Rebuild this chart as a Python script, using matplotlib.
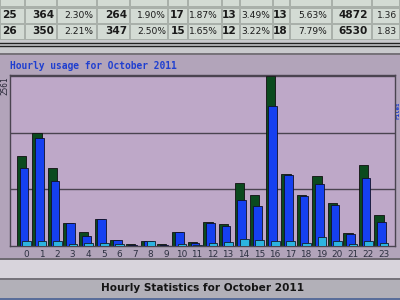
import matplotlib
matplotlib.use("Agg")
import matplotlib.pyplot as plt
from matplotlib.patches import Rectangle

# hourly usage, october 2011
hours = list(range(24))
hits = [1356, 1702, 1175, 346, 211, 407, 90, 30, 75, 30, 211, 60,
        362, 331, 949, 768, 2561, 1085, 768, 1055, 648, 196, 1220, 467]
files = [1175, 1627, 979, 346, 151, 407, 90, 15, 75, 15, 211, 45,
         346, 301, 693, 603, 2109, 1070, 753, 934, 618, 181, 1024, 362]
pages = [75, 75, 75, 30, 45, 45, 30, 5, 75, 5, 30, 15,
         45, 60, 105, 90, 75, 75, 45, 135, 75, 30, 75, 45]
y_max = 2561

# daily table rows visible above the chart
row_25 = ["25", "364", "2.30%", "264", "1.90%", "17", "1.87%", "13", "3.49%", "13", "5.63%", "4872", "1.36"]
row_26 = ["26", "350", "2.21%", "347", "2.50%", "15", "1.65%", "12", "3.22%", "18", "7.79%", "6530", "1.83"]

title = "Hourly usage for October 2011"
footer = "Hourly Statistics for October 2011"

fig = plt.figure(figsize=(4, 3), dpi=100)
fig.patch.set_facecolor("#b4aab8")

# background layer in pixel coords
bg = fig.add_axes([0, 0, 1, 1])
bg.set_xlim(0, 400)
bg.set_ylim(300, 0)
bg.axis("off")

def box(x, y, w, h, color, **kw):
    bg.add_patch(Rectangle((x, y), w, h, facecolor=color, edgecolor="none", **kw))

# table area
box(0, 0, 400, 40, "#a9b0aa")
col_edges = [0, 25, 57, 97, 130, 168, 188, 222, 240, 273, 290, 332, 372, 400]
for ry in [-9, 8, 24]:
    for i in range(len(col_edges) - 1):
        box(col_edges[i] + 1, ry + 1, col_edges[i + 1] - col_edges[i] - 2, 14, "#d3dbd4")

right_x = [17, 54, 93, 127, 166, 185, 218, 237, 270, 288, 327, 368]
for ry, row in [(15.5, row_25), (31.5, row_26)]:
    for i, val in enumerate(row):
        bold = "%" not in val
        if i == len(row) - 1:
            bg.text(377, ry, val, ha="left", va="center", fontsize=6.6, color="#222")
        else:
            bg.text(right_x[i], ry, val, ha="right", va="center",
                    fontsize=7.6 if bold else 6.6,
                    fontweight="bold" if bold else "normal", color="#1a1a1a")

box(0, 40, 400, 15, "#c9c9cd")
bg.plot([0, 400], [43, 43], color="#222", lw=1)
bg.plot([0, 400], [46, 46], color="#222", lw=1)
box(0, 53, 400, 2, "#77727a")

# chart panel
box(0, 55, 400, 203, "#b2a4ba")
box(0, 258, 400, 2, "#6e6a72")
box(0, 260, 400, 18, "#d8d4dc")
box(0, 278, 400, 2, "#77747c")
box(0, 280, 400, 18, "#b2b0b8")
box(0, 298, 400, 2, "#5a6e9a")

bg.text(10, 66, title, ha="left", va="center", family="DejaVu Sans Mono",
        fontweight="bold", fontsize=6.9, color="#1f3fd0")
bg.text(4.5, 86, str(y_max), rotation=90, ha="center", va="center",
        family="DejaVu Sans Mono", fontsize=5.6, color="#2a2a3a")
bg.text(203, 288, footer, ha="center", va="center", fontweight="bold",
        fontsize=7.6, color="#151515")
# legend text squeezed at the right edge
bg.text(397.6, 110, "Files", rotation=90, ha="center", va="center",
        family="DejaVu Sans Mono", fontweight="bold", fontsize=4.2, color="#1f3fd0")

# the chart itself
ax = fig.add_axes([10 / 400, 1 - 246 / 300, 385 / 400, 171 / 300])
ax.set_facecolor("#bea8c8")
ax.set_xlim(-1.03, 23.73)
ax.set_ylim(0, y_max * 1.005)

for g in [y_max / 3, y_max * 2 / 3, y_max]:
    ax.axhline(g, color="#4a4450", lw=1, zorder=1)

ax.bar([h - 0.29 for h in hours], hits, width=0.6, color="#0b4a1e", edgecolor="#101010", lw=0.6, zorder=2)
ax.bar([h - 0.13 for h in hours], files, width=0.56, color="#1540f0", edgecolor="#101028", lw=0.6, zorder=3)
ax.bar([h + 0.03 for h in hours], pages, width=0.56, color="#2cb4e0", edgecolor="#102030", lw=0.6, zorder=4)

ax.set_xticks(hours)
ax.set_xticklabels([str(h) for h in hours], fontsize=6.4, color="#2c3040")
ax.tick_params(axis="x", length=0, pad=3)
ax.set_yticks([])
for s in ax.spines.values():
    s.set_color("#4a4450")
    s.set_linewidth(1)

fig.savefig("out.png", dpi=100, facecolor=fig.get_facecolor())
